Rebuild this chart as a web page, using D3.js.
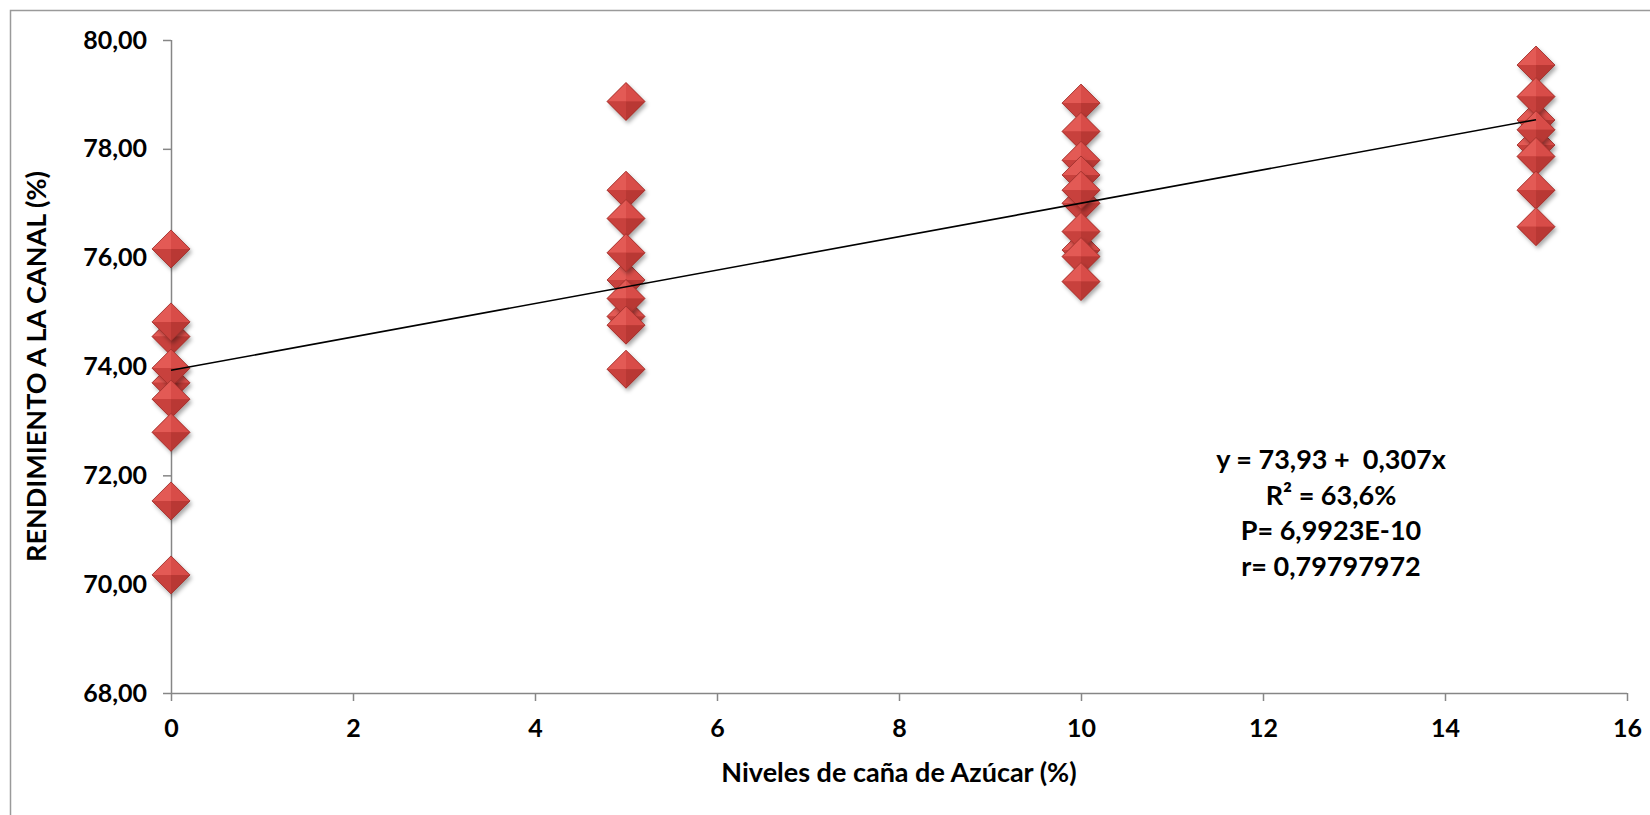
<!DOCTYPE html>
<html>
<head>
<meta charset="utf-8">
<script src="https://cdn.jsdelivr.net/npm/d3@7"></script>
<style>
  html, body { margin: 0; padding: 0; background: #fff; }
  svg { display: block; }
  text { font-family: Lato, "Open Sans", sans-serif; font-weight: 700; fill: #000; }
</style>
</head>
<body>
<svg id="chart" width="1650" height="815"></svg>
<script>
// Sugar-cane inclusion levels (%) and carcass yield (%) per animal.
// Within each level, values are listed in drawing order.
const levels = [0, 5, 10, 15];
const yield0  = [74.55, 73.70, 76.16, 74.82, 73.97, 73.40, 72.79, 71.53, 70.17];
const yield5  = [75.59, 74.92, 78.87, 77.24, 76.72, 76.09, 75.25, 74.76, 73.95];
const yield10 = [77.00, 76.14, 78.84, 78.32, 77.79, 77.52, 77.24, 76.48, 76.02, 75.56];
const yield15 = [78.53, 78.07, 79.54, 78.96, 78.35, 77.86, 77.24, 76.57];

// Fitted line y = a + b·x
const intercept = 73.93;
const slope = 0.307;
const fitRange = [0, 15];

const xTicks = [0, 2, 4, 6, 8, 10, 12, 14, 16];
const yTicks = [68, 70, 72, 74, 76, 78, 80];

const statsLines = ["y = 73,93 +  0,307x", "R² = 63,6%", "P= 6,9923E-10", "r= 0,79797972"];
const xTitle = "Niveles de caña de Azúcar (%)";
const yTitle = "RENDIMIENTO A LA CANAL (%)";

const series = [yield0, yield5, yield10, yield15];
const points = [];
levels.forEach((lv, i) => series[i].forEach(v => points.push({ x: lv, y: v })));

const svg = d3.select("#chart");
const W = 1650, H = 815;
const plot = { left: 171, right: 1627, top: 40, bottom: 693 };

const x = d3.scaleLinear().domain([0, 16]).range([plot.left, plot.right]);
const y = d3.scaleLinear().domain([68, 80]).range([plot.bottom, plot.top]);

const es = d3.formatLocale({ decimal: ",", thousands: ".", grouping: [3], currency: ["", "€"] });
const fmtY = es.format(".2f");

// Chart frame
svg.append("rect")
  .attr("x", 10.5).attr("y", 10.5)
  .attr("width", W).attr("height", H)
  .attr("fill", "#fff").attr("stroke", "#9a9a9a").attr("stroke-width", 1.5);

// Marker shadow
const defs = svg.append("defs");
const f = defs.append("filter").attr("id", "shadow")
  .attr("x", "-50%").attr("y", "-50%").attr("width", "200%").attr("height", "200%");
f.append("feDropShadow")
  .attr("dx", 2).attr("dy", 3).attr("stdDeviation", 2.2)
  .attr("flood-color", "#000").attr("flood-opacity", 0.35);

// Axes
const axisColor = "#868686";
const gx = svg.append("g")
  .attr("transform", `translate(0,${plot.bottom})`)
  .call(d3.axisBottom(x).tickValues(xTicks).tickFormat(d3.format("d")).tickSize(8).tickPadding(18));
const gy = svg.append("g")
  .attr("transform", `translate(${plot.left},0)`)
  .call(d3.axisLeft(y).tickValues(yTicks).tickFormat(fmtY).tickSize(8).tickPadding(16));

[gx, gy].forEach(g => {
  g.select(".domain").attr("stroke", axisColor).attr("stroke-width", 1.5);
  g.selectAll(".tick line").attr("stroke", axisColor).attr("stroke-width", 1.5);
  g.selectAll(".tick text").attr("font-size", 25).attr("fill", "#000")
    .style("font-family", "Lato, 'Open Sans', sans-serif").style("font-weight", 700);
});
// Plain axis lines without end caps
gx.select(".domain").attr("d", `M${plot.left},0.5H${plot.right}`);
gy.select(".domain").attr("d", `M0.5,${plot.top}V${plot.bottom}`);

// Bevelled diamond markers
const r = 19;
const facets = [
  { d: `M0,0L${-r},0L0,${-r}Z`, fill: "#e35a55" },
  { d: `M0,0L0,${-r}L${r},0Z`, fill: "#d84c48" },
  { d: `M0,0L${-r},0L0,${r}Z`, fill: "#c8413d" },
  { d: `M0,0L${r},0L0,${r}Z`, fill: "#b93834" }
];
const marks = svg.append("g").attr("class", "points");
const m = marks.selectAll("g.pt").data(points).join("g")
  .attr("class", "pt")
  .attr("transform", d => `translate(${x(d.x)},${y(d.y)})`);
m.append("path")
  .attr("d", `M0,${-r}L${r},0L0,${r}L${-r},0Z`)
  .attr("fill", "#c4403c").attr("filter", "url(#shadow)");
facets.forEach(fc => m.append("path").attr("d", fc.d).attr("fill", fc.fill));
m.append("path")
  .attr("d", `M0,${-r}L${r},0L0,${r}L${-r},0Z`)
  .attr("fill", "none").attr("stroke", "#9c2f2b").attr("stroke-width", 0.8);

// Regression line
const line = d3.line().x(d => x(d)).y(d => y(intercept + slope * d));
svg.append("path")
  .attr("d", line(fitRange))
  .attr("fill", "none").attr("stroke", "#000").attr("stroke-width", 1.6);

// Statistics annotation
const statsX = 1331;
const statsBase = 469, statsStep = 35.7;
svg.append("g").selectAll("text").data(statsLines).join("text")
  .attr("x", statsX)
  .attr("y", (d, i) => statsBase + i * statsStep)
  .attr("text-anchor", "middle")
  .attr("font-size", 27)
  .style("white-space", "pre")
  .text(d => d);

// Axis titles
svg.append("text")
  .attr("x", (plot.left + plot.right) / 2).attr("y", 782)
  .attr("text-anchor", "middle").attr("font-size", 27)
  .text(xTitle);
svg.append("text")
  .attr("transform", `translate(46,${(plot.top + plot.bottom) / 2}) rotate(-90)`)
  .attr("text-anchor", "middle").attr("font-size", 27)
  .text(yTitle);
</script>
</body>
</html>
